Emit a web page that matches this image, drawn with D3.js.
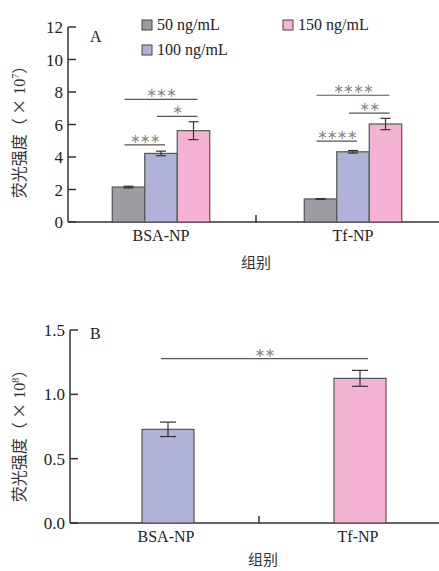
<!DOCTYPE html>
<html><head><meta charset="utf-8">
<script src="https://cdn.jsdelivr.net/npm/d3@7"></script>
<style>body{margin:0;background:#fff}svg{display:block}</style>
</head><body>
<svg id="c" width="439" height="571"></svg>
<script>
// ---- Data ----
const groups = ["BSA-NP", "Tf-NP"];
const seriesA = ["50 ng/mL", "100 ng/mL", "150 ng/mL"];
const colorsA = ["#9b9da3", "#b0b2da", "#f5b3d3"];
const valuesA = [[2.15, 4.22, 5.62], [1.42, 4.32, 6.03]];
const errorsA = [[0.05, 0.14, 0.55], [0.02, 0.08, 0.35]];
const ticksA = [0, 2, 4, 6, 8, 10, 12];
// significance: [group, fromSeries, toSeries, level y value, label]
const sigA = [
  [0, 0, 1, 4.75, "∗∗∗"], [0, 1, 2, 6.5, "∗"], [0, 0, 2, 7.55, "∗∗∗"],
  [1, 0, 1, 4.98, "∗∗∗∗"], [1, 1, 2, 6.7, "∗∗"], [1, 0, 2, 7.8, "∗∗∗∗"]
];
const valuesB = [0.728, 1.124];
const errorsB = [0.056, 0.062];
const colorsB = ["#b0b2da", "#f5b3d3"];
const ticksB = [0.0, 0.5, 1.0, 1.5];
const sigB = [0, 1, 1.277, "∗∗"];

const svg = d3.select("#c");
const serif = "'Liberation Serif','Times New Roman',serif";
const cjk = "'Noto Sans CJK SC',sans-serif";
const axisCol = "#333";

function axes(g, y, x, ticks, fmt, yTop, yBot, left, midX) {
  g.append("line").attr("x1", left).attr("x2", left).attr("y1", yTop).attr("y2", yBot)
    .attr("stroke", axisCol).attr("stroke-width", 1.5);
  ticks.forEach(t => {
    g.append("line").attr("x1", left).attr("x2", left + 8).attr("y1", y(t)).attr("y2", y(t))
      .attr("stroke", axisCol).attr("stroke-width", 1.5);
    g.append("text").attr("x", left - 5).attr("y", y(t) + 6).attr("text-anchor", "end")
      .attr("font-family", serif).attr("font-size", 17).attr("fill", "#222").text(fmt(t));
  });
  g.append("line").attr("x1", left).attr("x2", 439).attr("y1", yBot).attr("y2", yBot)
    .attr("stroke", axisCol).attr("stroke-width", 1.5);
  g.append("line").attr("x1", midX).attr("x2", midX).attr("y1", yBot).attr("y2", yBot - 7)
    .attr("stroke", axisCol).attr("stroke-width", 1.5);
  groups.forEach(gr => {
    g.append("text").attr("x", x(gr) + x.bandwidth() / 2).attr("y", yBot + 19)
      .attr("text-anchor", "middle").attr("font-family", serif).attr("font-size", 16)
      .attr("fill", "#222").text(gr);
  });
}

function ylabel(g, cx, cy, exp) {
  const t = g.append("text").attr("transform", `translate(${cx},${cy}) rotate(-90)`)
    .attr("text-anchor", "middle").attr("font-size", 16).attr("fill", "#333");
  t.append("tspan").attr("font-family", cjk).text("荧光强度（ ×");
  t.append("tspan").attr("font-family", serif).text(" 10");
  t.append("tspan").attr("font-family", serif).attr("font-size", 10).attr("dy", -6).text(exp);
  t.append("tspan").attr("font-family", cjk).attr("dy", 6).text("）");
}

function errbar(g, cx, v, e, y, w) {
  g.append("line").attr("x1", cx).attr("x2", cx).attr("y1", y(v + e)).attr("y2", y(v - e))
    .attr("stroke", "#333").attr("stroke-width", 1.2);
  [v + e, v - e].forEach(k => g.append("line").attr("x1", cx - w).attr("x2", cx + w)
    .attr("y1", y(k)).attr("y2", y(k)).attr("stroke", "#333").attr("stroke-width", 1.2));
}

function sig(g, x1, x2, yv, label) {
  g.append("line").attr("x1", x1).attr("x2", x2).attr("y1", yv).attr("y2", yv)
    .attr("stroke", "#555").attr("stroke-width", 1.2);
  g.append("text").attr("x", (x1 + x2) / 2).attr("y", yv - 2).attr("text-anchor", "middle")
    .attr("font-family", "'DejaVu Sans',sans-serif").attr("font-size", 13)
    .attr("letter-spacing", -1).attr("fill", "#888").text(label);
}

// ---- Panel A ----
const gA = svg.append("g");
const yA = d3.scaleLinear().domain([0, 12]).range([222, 27]);
const xA = d3.scaleBand().domain(groups).range([65, 449]);
const xsA = d3.scaleBand().domain(seriesA).range([0, 97.5]);
const offA = (xA.bandwidth() - 97.5) / 2;
axes(gA, yA, xA, ticksA, d => d, 27, 222, 68, xA("Tf-NP") - 1);
groups.forEach((gr, gi) => {
  seriesA.forEach((s, si) => {
    const x0 = xA(gr) + offA + xsA(s);
    gA.append("rect").attr("x", x0).attr("y", yA(valuesA[gi][si]))
      .attr("width", xsA.bandwidth()).attr("height", yA(0) - yA(valuesA[gi][si]))
      .attr("fill", colorsA[si]).attr("stroke", "#555").attr("stroke-width", 1.2);
    errbar(gA, x0 + xsA.bandwidth() / 2, valuesA[gi][si], errorsA[gi][si], yA, 5);
  });
});
sigA.forEach(([gi, a, b, lv, lab]) => {
  const ca = xA(groups[gi]) + offA + xsA(seriesA[a]) + xsA.bandwidth() / 2 - 4;
  const cb = xA(groups[gi]) + offA + xsA(seriesA[b]) + xsA.bandwidth() / 2 + 4;
  sig(gA, ca, cb, yA(lv), lab);
});
gA.append("text").attr("x", 90).attr("y", 42).attr("font-family", serif)
  .attr("font-size", 16).attr("fill", "#222").text("A");
const legPos = [[142, 20], [142, 45], [283, 20]];
seriesA.forEach((s, i) => {
  gA.append("rect").attr("x", legPos[i][0]).attr("y", legPos[i][1]).attr("width", 10).attr("height", 10)
    .attr("fill", colorsA[i]).attr("stroke", "#444").attr("stroke-width", 1);
  gA.append("text").attr("x", legPos[i][0] + 15).attr("y", legPos[i][1] + 10)
    .attr("font-family", serif).attr("font-size", 16).attr("fill", "#222").text(s);
});
ylabel(gA, 25, 128, "7");
gA.append("text").attr("x", 256).attr("y", 268).attr("text-anchor", "middle")
  .attr("font-family", cjk).attr("font-size", 15).attr("fill", "#333").text("组别");

// ---- Panel B ----
const gB = svg.append("g");
const yB = d3.scaleLinear().domain([0, 1.5]).range([523, 330]);
const xB = d3.scaleBand().domain(groups).range([70, 454]);
const bwB = 52;
axes(gB, yB, xB, ticksB, d => d.toFixed(1), 330, 523, 70, xB("Tf-NP") - 3);
groups.forEach((gr, gi) => {
  const cx = xB(gr) + xB.bandwidth() / 2 + 2;
  gB.append("rect").attr("x", cx - bwB / 2).attr("y", yB(valuesB[gi]))
    .attr("width", bwB).attr("height", yB(0) - yB(valuesB[gi]))
    .attr("fill", colorsB[gi]).attr("stroke", "#555").attr("stroke-width", 1.2);
  errbar(gB, cx, valuesB[gi], errorsB[gi], yB, 8);
});
{
  const c0 = xB(groups[sigB[0]]) + xB.bandwidth() / 2 + 2 - 7;
  const c1 = xB(groups[sigB[1]]) + xB.bandwidth() / 2 + 2 + 8;
  sig(gB, c0, c1, yB(sigB[2]), sigB[3]);
}
gB.append("text").attr("x", 90).attr("y", 339).attr("font-family", serif)
  .attr("font-size", 16).attr("fill", "#222").text("B");
ylabel(gB, 25, 432, "8");
gB.append("text").attr("x", 263).attr("y", 565).attr("text-anchor", "middle")
  .attr("font-family", cjk).attr("font-size", 15).attr("fill", "#333").text("组别");
</script>
</body></html>
